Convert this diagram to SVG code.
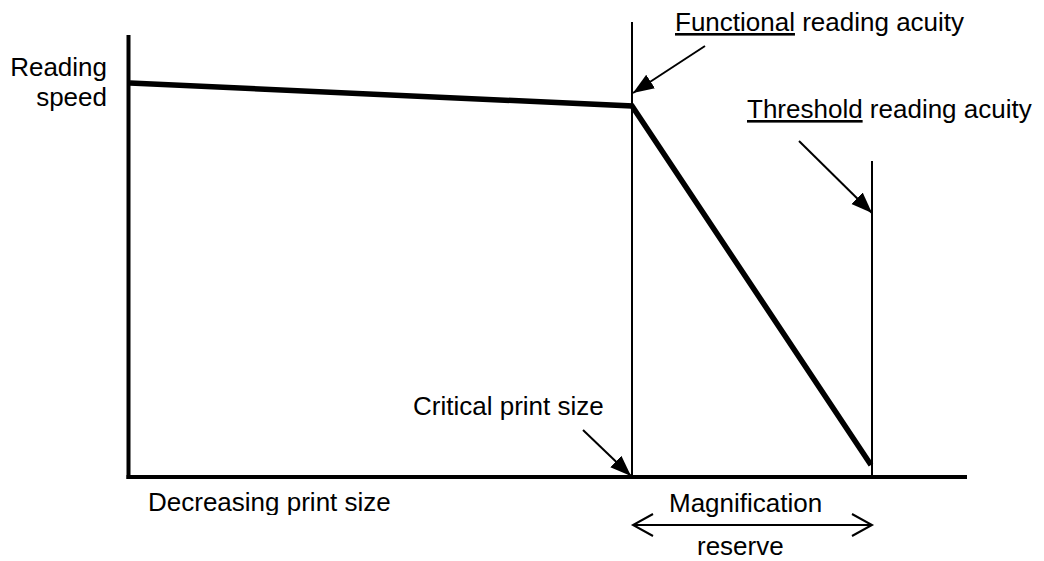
<svg xmlns="http://www.w3.org/2000/svg" width="1044" height="561" viewBox="0 0 1044 561">
<style>
text{font-family:"Liberation Sans",Arial,sans-serif;font-size:26px;fill:#000}
.axis{stroke:#000;stroke-width:4;fill:none}
.thin{stroke:#000;stroke-width:2;fill:none}
.curve{stroke:#000;stroke-width:5.5;fill:none;stroke-linejoin:miter}
.ptr{stroke:#000;stroke-width:2;fill:none;marker-end:url(#ah)}
</style>
<defs>
<marker id="ah" markerUnits="userSpaceOnUse" markerWidth="22" markerHeight="18" refX="21" refY="8" orient="auto" viewBox="0 0 22 16">
<path d="M0,0 L21,8 L0,16 z" fill="#000"/>
</marker>
<clipPath id="clipDec"><rect x="140" y="480" width="270" height="35"/></clipPath>
</defs>
<rect width="1044" height="561" fill="#fff"/>
<g id="axes">
<line class="axis" x1="128.5" y1="35" x2="128.5" y2="479"/>
<line class="axis" x1="126.5" y1="477" x2="967" y2="477"/>
</g>
<g id="guides">
<line class="thin" x1="632" y1="22" x2="632" y2="477"/>
<line class="thin" x1="872" y1="161" x2="872" y2="477"/>
</g>
<g id="curve">
<polyline class="curve" points="130,83 632,106 871,465"/>
</g>
<g id="connectors">
<line class="ptr" x1="705" y1="46" x2="633" y2="93"/>
<line class="ptr" x1="799" y1="141" x2="872" y2="213"/>
<line class="ptr" x1="583" y1="430" x2="631" y2="476"/>
<line class="thin" x1="633" y1="525" x2="872" y2="525"/>
<polyline class="thin" points="653,514 633,525 653,536"/>
<polyline class="thin" points="852,514 872,525 852,536"/>
</g>
<g id="label-reading-speed">
<text x="107" y="76" text-anchor="end">Reading</text>
<text x="107" y="106" text-anchor="end">speed</text>
</g>
<g id="label-functional">
<text x="675" y="31"><tspan text-decoration="underline">Functional</tspan> reading acuity</text>
</g>
<g id="label-threshold">
<text x="747" y="118"><tspan text-decoration="underline">Threshold</tspan> reading acuity</text>
</g>
<g id="label-critical">
<text x="413" y="415">Critical print size</text>
</g>
<g id="label-decreasing">
<text x="148" y="511" clip-path="url(#clipDec)">Decreasing print size</text>
</g>
<g id="label-magnification">
<text x="669" y="512">Magnification</text>
<text x="697" y="555">reserve</text>
</g>
</svg>
